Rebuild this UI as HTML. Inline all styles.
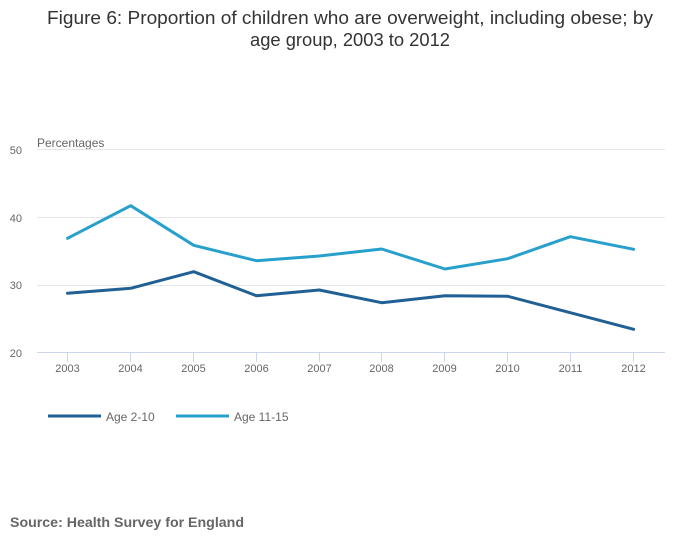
<!DOCTYPE html>
<html><head><meta charset="utf-8">
<style>
html,body{margin:0;padding:0;background:#fff;}
svg{display:block;font-family:"Liberation Sans",sans-serif;}
</style></head>
<body>
<svg width="700" height="549" viewBox="0 0 700 549" xmlns="http://www.w3.org/2000/svg">
<rect width="700" height="549" fill="#fff"/>
<text x="350" y="24" text-anchor="middle" font-size="18" fill="#333" textLength="606" lengthAdjust="spacingAndGlyphs">Figure 6: Proportion of children who are overweight, including obese; by</text>
<text x="350" y="46" text-anchor="middle" font-size="18" fill="#333" textLength="200" lengthAdjust="spacingAndGlyphs">age group, 2003 to 2012</text>

<text x="37" y="147" font-size="12" fill="#666">Percentages</text>

<g stroke="#e6e6e6" stroke-width="1">
<line x1="37" y1="149.5" x2="665" y2="149.5"/>
<line x1="37" y1="217.5" x2="665" y2="217.5"/>
<line x1="37" y1="285.5" x2="665" y2="285.5"/>
</g>
<line x1="37" y1="352.5" x2="665" y2="352.5" stroke="#ccd6eb" stroke-width="1"/>
<g stroke="#ccd6eb" stroke-width="1">
<line x1="67.5" y1="352" x2="67.5" y2="362"/>
<line x1="130.5" y1="352" x2="130.5" y2="362"/>
<line x1="193.5" y1="352" x2="193.5" y2="362"/>
<line x1="256.5" y1="352" x2="256.5" y2="362"/>
<line x1="319.5" y1="352" x2="319.5" y2="362"/>
<line x1="381.5" y1="352" x2="381.5" y2="362"/>
<line x1="444.5" y1="352" x2="444.5" y2="362"/>
<line x1="507.5" y1="352" x2="507.5" y2="362"/>
<line x1="570.5" y1="352" x2="570.5" y2="362"/>
<line x1="633.5" y1="352" x2="633.5" y2="362"/>
</g>
<g font-size="11" fill="#666" text-anchor="end">
<text x="22" y="154">50</text>
<text x="22" y="222">40</text>
<text x="22" y="289">30</text>
<text x="22" y="357">20</text>
</g>
<g font-size="11" fill="#666" text-anchor="middle">
<text x="67.5" y="372">2003</text>
<text x="130.5" y="372">2004</text>
<text x="193.5" y="372">2005</text>
<text x="256.5" y="372">2006</text>
<text x="319.5" y="372">2007</text>
<text x="381.5" y="372">2008</text>
<text x="444.5" y="372">2009</text>
<text x="507.5" y="372">2010</text>
<text x="570.5" y="372">2011</text>
<text x="633.5" y="372">2012</text>
</g>

<polyline fill="none" stroke="#27a0cc" stroke-width="3" stroke-linejoin="round" stroke-linecap="round"
 points="67.5,238.3 130.7,205.7 193.7,245.3 256.3,260.7 319.3,256 381.7,249 445,269 507.7,258.7 570.3,236.7 633.7,249.3"/>
<polyline fill="none" stroke="#206095" stroke-width="3" stroke-linejoin="round" stroke-linecap="round"
 points="67.5,293.3 130.7,288.3 193.7,271.7 256.3,295.7 319.3,290 381.7,302.7 445,295.7 507.7,296.3 570.3,312.7 633.7,329.3"/>

<line x1="48" y1="416" x2="101" y2="416" stroke="#206095" stroke-width="3"/>
<text x="106" y="421" font-size="12" fill="#666">Age 2-10</text>
<line x1="176" y1="416" x2="229" y2="416" stroke="#27a0cc" stroke-width="3"/>
<text x="234" y="421" font-size="12" fill="#666">Age 11-15</text>

<text x="10" y="527" font-size="14" font-weight="bold" fill="#666" textLength="234" lengthAdjust="spacingAndGlyphs">Source: Health Survey for England</text>
</svg>
</body></html>
